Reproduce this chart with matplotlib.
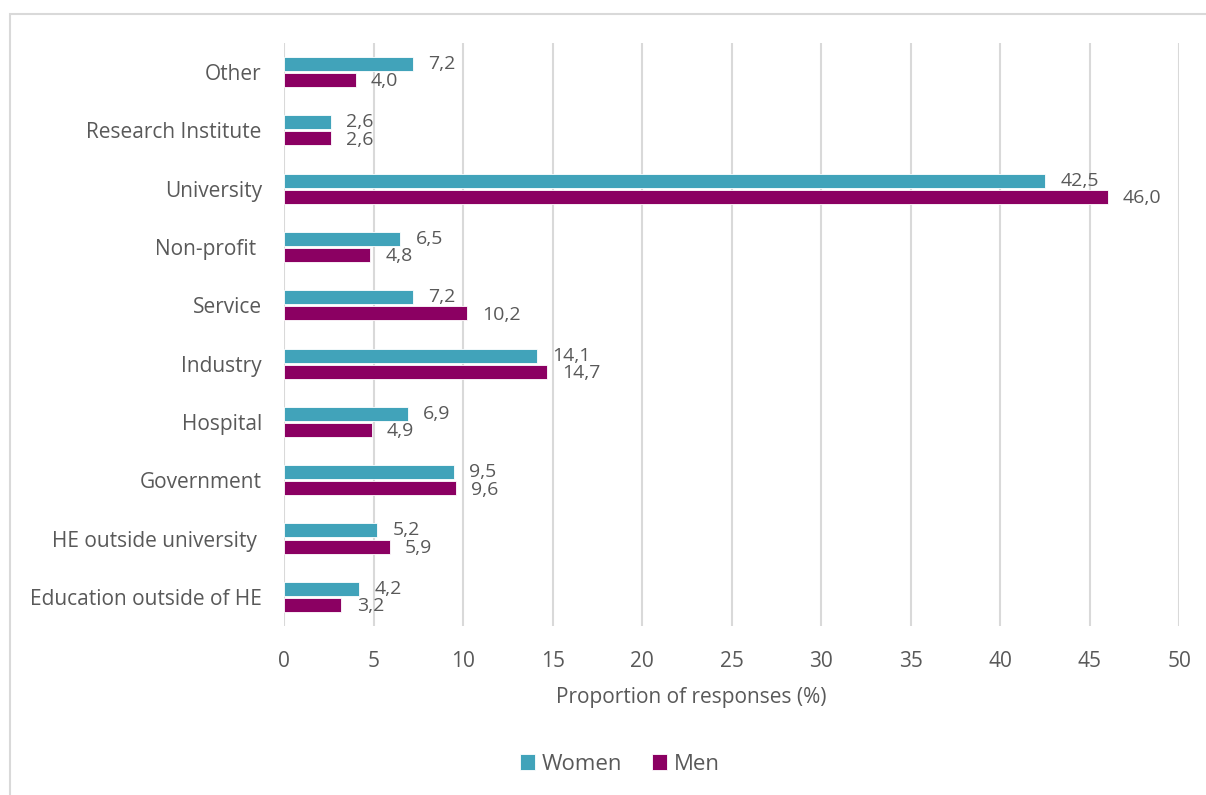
import numpy as np
import matplotlib.pyplot as plt
from matplotlib.patches import Rectangle

categories = ['Other', 'Research Institute', 'University', 'Non-profit ', 'Service',
              'Industry', 'Hospital', 'Government', 'HE outside university ',
              'Education outside of HE']
women = [7.2, 2.6, 42.5, 6.5, 7.2, 14.1, 6.9, 9.5, 5.2, 4.2]
men = [4.0, 2.6, 46.0, 4.8, 10.2, 14.7, 4.9, 9.6, 5.9, 3.2]
xticks = [0, 5, 10, 15, 20, 25, 30, 35, 40, 45, 50]

teal = '#41A3BA'
purple = '#8B0062'
text_col = '#595959'

plt.rcParams['font.family'] = ['Open Sans', 'DejaVu Sans']

fig = plt.figure(figsize=(12.06, 7.95), dpi=100)
ax = fig.add_axes([0.2355, 0.2126, 0.7425, 0.7335])

# outer chart border
fig.patches.append(Rectangle((10 / 1206, -0.05), 1.1, 1 - 14 / 795 + 0.05,
                             transform=fig.transFigure, fill=False,
                             edgecolor='#D9D9D9', linewidth=1.5))

y = np.arange(len(categories))
h = 0.24
gap = 0.035
ax.barh(y - h / 2 - gap / 2, women, height=h, color=teal, edgecolor='white',
        linewidth=0.6, label='Women', zorder=3)
ax.barh(y + h / 2 + gap / 2, men, height=h, color=purple, edgecolor='white',
        linewidth=0.6, label='Men', zorder=3)

for i in range(len(categories)):
    ax.annotate(f'{women[i]:.1f}'.replace('.', ','), (women[i], y[i] - h / 2 - gap / 2),
                xytext=(11, 0), textcoords='offset points', va='center', ha='left',
                fontsize=14, color=text_col)
    ax.annotate(f'{men[i]:.1f}'.replace('.', ','), (men[i], y[i] + h / 2 + gap / 2),
                xytext=(11, -1), textcoords='offset points', va='center', ha='left',
                fontsize=14, color=text_col)

ax.set_ylim(len(categories) - 0.5, -0.5)
ax.set_yticks(y)
ax.set_yticklabels(categories)
ax.set_xlim(0, 50)
ax.set_xticks(xticks)
ax.grid(axis='x', color='#D9D9D9', linewidth=1.5, zorder=0)
ax.set_axisbelow(True)
for s in ax.spines.values():
    s.set_visible(False)
ax.tick_params(axis='both', length=0, labelsize=15, labelcolor=text_col)
ax.tick_params(axis='x', pad=18)
ax.tick_params(axis='y', pad=16)
ax.set_xlabel('Proportion of responses (%)', fontsize=15, color=text_col, labelpad=10)
ax.xaxis.set_label_coords(0.455, -0.105)

ax.legend(loc='upper center', bbox_to_anchor=(0.375, -0.185), ncol=2, frameon=False,
          fontsize=16, labelcolor=text_col, handlelength=0.7, handleheight=0.7,
          handletextpad=0.3, columnspacing=1.3)

fig.savefig('out.png', dpi=100, facecolor='white')
